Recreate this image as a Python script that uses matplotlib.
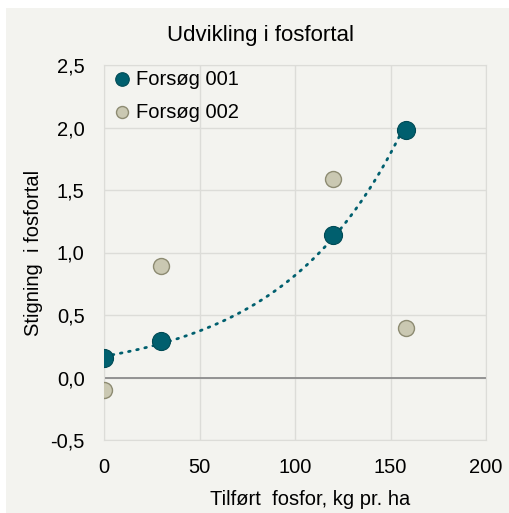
import numpy as np
import matplotlib.pyplot as plt
from matplotlib.patches import Rectangle

plt.rcParams['font.family'] = ['Liberation Sans', 'DejaVu Sans']

# data
x_001 = [0, 30, 120, 158]
y_001 = [0.16, 0.29, 1.14, 1.98]
x_002 = [0, 30, 120, 158]
y_002 = [-0.10, 0.89, 1.59, 0.40]
x_ticks = [0, 50, 100, 150, 200]
y_ticks = [-0.5, 0.0, 0.5, 1.0, 1.5, 2.0, 2.5]

bg = '#f3f3ef'
teal = '#005f6e'
stone = '#cac8b2'

fig = plt.figure(figsize=(5.09, 5.13), dpi=100, facecolor='white')
fig.patches.append(Rectangle((6 / 509, 0), 1 - 6 / 509, 1 - 8 / 513,
                             transform=fig.transFigure, facecolor=bg,
                             edgecolor='none', zorder=-10))
ax = fig.add_axes([104 / 509, 1 - 440 / 513, 382 / 509, 375 / 513])
ax.set_facecolor(bg)

# exponential trendline through series 001
b, ln_a = np.polyfit(x_001, np.log(y_001), 1)
xs = np.linspace(min(x_001), max(x_001), 200)
ax.plot(xs, np.exp(ln_a) * np.exp(b * xs), color=teal, lw=2,
        linestyle=(0, (0.6, 2.4)), dash_capstyle='round', zorder=3)

ax.axhline(0, color='#8c8c8c', lw=1.3, zorder=2)
ax.scatter(x_002, y_002, s=11.5 ** 2, color=stone, edgecolor='#8d8b72',
           linewidth=1, zorder=4, label='Forsøg 002')
ax.scatter(x_001, y_001, s=13 ** 2, color=teal, edgecolor='#004a55',
           linewidth=0.8, zorder=5, label='Forsøg 001')

ax.set_xlim(0, 200)
ax.set_ylim(-0.5, 2.5)
ax.set_xticks(x_ticks)
ax.set_yticks(y_ticks)
ax.set_yticklabels([('%.1f' % v).replace('.', ',') for v in y_ticks])
ax.grid(True, color='#dcdcd8', lw=1)
ax.set_axisbelow(True)
for s in ax.spines.values():
    s.set_color('#dcdcd8')
ax.tick_params(length=0, labelsize=14.5, pad=14)
ax.tick_params(axis='x', pad=13)

ax.set_title('Udvikling i fosfortal', fontsize=16, pad=17, x=0.41)
ax.set_xlabel('Tilført  fosfor, kg pr. ha', fontsize=14.5, labelpad=9, x=0.54)
ax.set_ylabel('Stigning  i fosfortal', fontsize=14.5, labelpad=5)

h, l = ax.get_legend_handles_labels()
leg = ax.legend(h[::-1], l[::-1], loc='upper left', frameon=False,
                bbox_to_anchor=(-0.003, 1.004), borderaxespad=0, borderpad=0.3,
                fontsize=14.5, handletextpad=0.05, markerscale=0.75,
                labelspacing=0.7, handlelength=1.3)

fig.savefig('out.png', dpi=100, facecolor='white')
